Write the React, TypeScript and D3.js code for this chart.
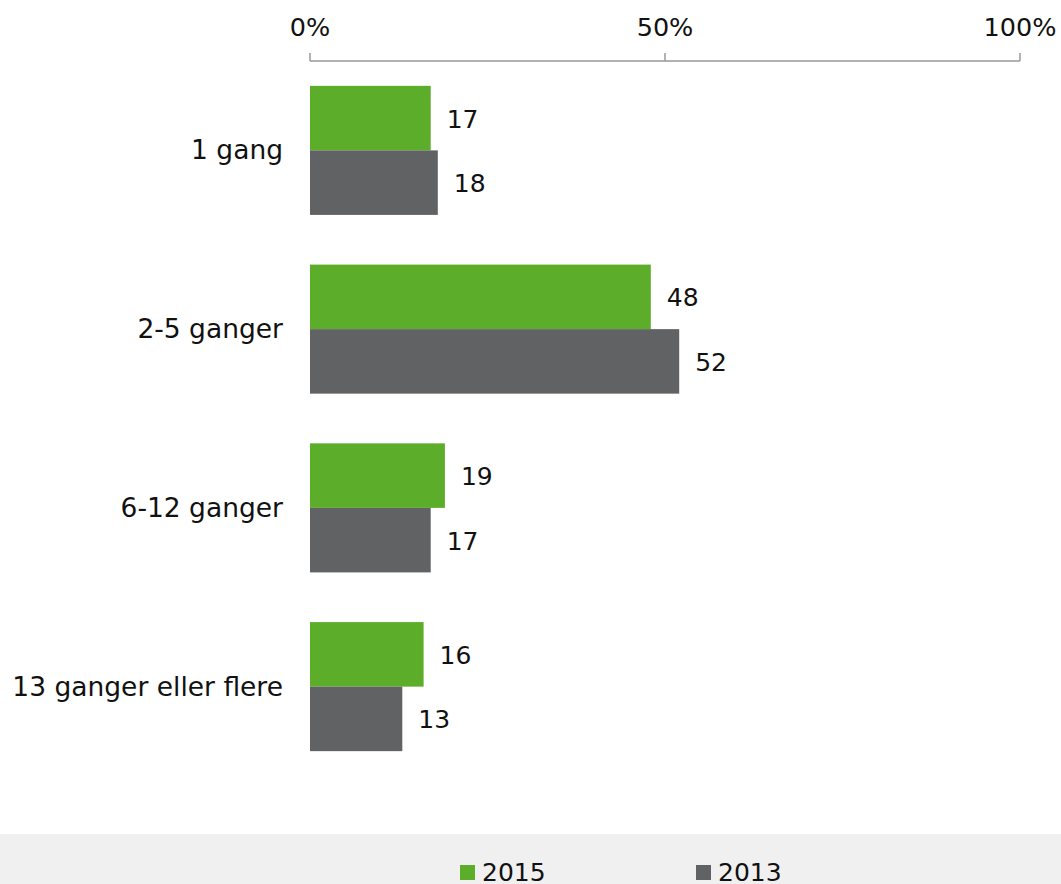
import React from "react";
import * as d3 from "d3";

const categories = ["1 gang", "2-5 ganger", "6-12 ganger", "13 ganger eller flere"];
const values2015 = [17, 48, 19, 16];
const values2013 = [18, 52, 17, 13];
const tickValues = [0, 50, 100];
const seriesNames = ["2015", "2013"];
const seriesColors = ["#5cad29", "#616264"];

const W = 1061;
const H = 884;

export default function App() {
  const x = d3.scaleLinear().domain([0, 100]).range([310, 1020]);
  const y = d3.scaleBand<string>().domain(categories).range([61, 776]).paddingInner(0.278).paddingOuter(0.139);
  const bh = y.bandwidth() / 2;
  const font = "'DejaVu Sans', Verdana, sans-serif";
  const series = [values2015, values2013];
  const legendX = [460, 696];
  return (
    <div style={{ position: "absolute", left: 0, top: 0 }}>
      <svg width={W} height={H} style={{ display: "block", fontFamily: font }}>
        <rect x={0} y={0} width={W} height={H} fill="#fff" />
        <line x1={x(0)} x2={x(100)} y1={61} y2={61} stroke="#999" strokeWidth={1.5} />
        {tickValues.map((t) => (
          <g key={t}>
            <line x1={x(t)} x2={x(t)} y1={53} y2={61} stroke="#999" strokeWidth={1.5} />
            <text x={x(t)} y={36} textAnchor="middle" fontSize={25.5} fill="#111">
              {t}%
            </text>
          </g>
        ))}
        {categories.map((c, i) => {
          const y0 = y(c)!;
          return (
            <g key={c}>
              <text x={283} y={y0 + bh + 9} textAnchor="end" fontSize={26.5} fill="#111">
                {c}
              </text>
              {series.map((s, j) => (
                <g key={j}>
                  <rect x={x(0)} y={y0 + j * bh} width={x(s[i]) - x(0)} height={bh} fill={seriesColors[j]} />
                  <text x={x(s[i]) + 16} y={y0 + j * bh + bh / 2 + 9.5} fontSize={25} fill="#111">
                    {s[i]}
                  </text>
                </g>
              ))}
            </g>
          );
        })}
        <rect x={0} y={834} width={W} height={50} fill="#f0f0f0" />
        {seriesNames.map((n, j) => (
          <g key={n}>
            <rect x={legendX[j]} y={865} width={15} height={15} fill={seriesColors[j]} />
            <text x={legendX[j] + 22} y={881} fontSize={25} fill="#111">
              {n}
            </text>
          </g>
        ))}
      </svg>
    </div>
  );
}
